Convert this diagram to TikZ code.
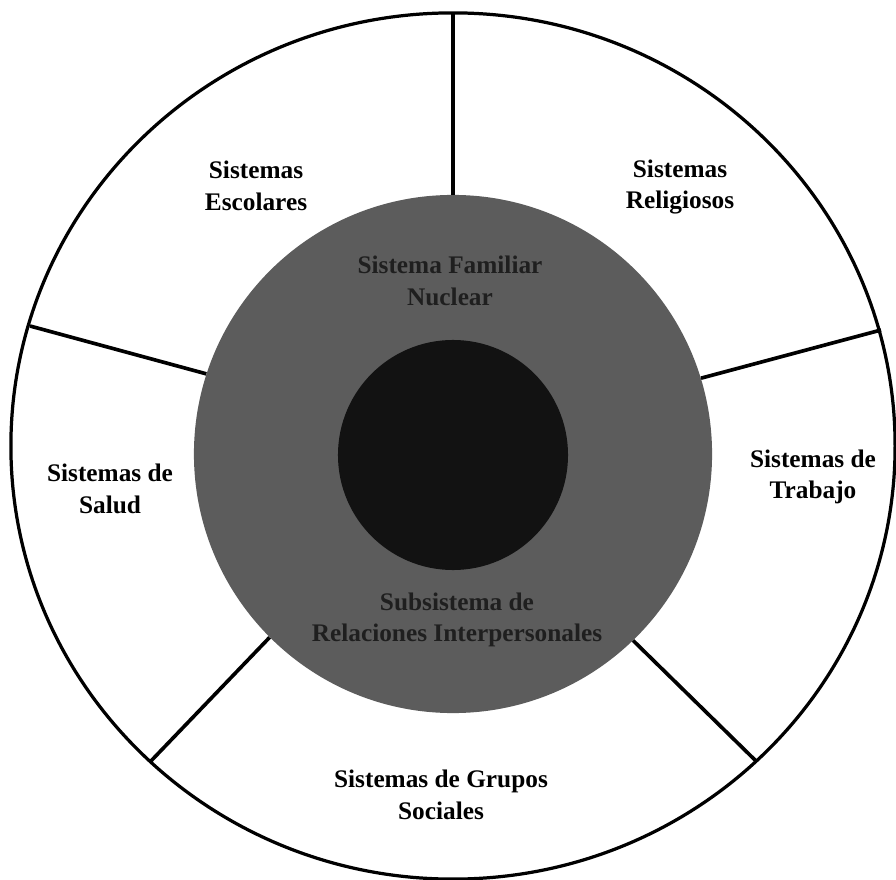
\documentclass[tikz,border=0pt]{standalone}
\usepackage{fontspec}
\setmainfont{Liberation Serif}

\begin{document}
\begin{tikzpicture}[
  x=0.025cm, y=-0.025cm,
  font=\bfseries\fontsize{18}{22.5}\selectfont,
  sistema/.style={align=center, inner sep=0pt},
  oculto/.style={align=center, inner sep=0pt, text=black!88},
  disco/.style={circle, inner sep=0pt},
  divisor/.style={line width=2.6pt}
]
\useasboundingbox (0,0) rectangle (896,880);
\fill[white] (0,0) rectangle (896,880);

% anillo exterior
\draw[line width=2.3pt] (453,446) ellipse [x radius=11.05cm, y radius=10.825cm];

% discos centrales
\node[disco, fill=black!64, minimum size=12.95cm] (familia) at (453,454) {};
\node[disco, fill=black!93, minimum size=5.75cm] (nucleo) at (453,455) {};

% extremos de los divisores
\coordinate (arriba) at (453,13);
\coordinate (izqsup) at (30,326);
\coordinate (dersup) at (881,330);
\coordinate (izqinf) at (150,762);
\coordinate (derinf) at (756,761);

\draw[divisor] (familia.90) -- (arriba);
\draw[divisor] (familia.162.5) -- (izqsup);
\draw[divisor] (familia.17.7) -- (dersup);
\draw[divisor] (familia.225.5) -- (izqinf);
\draw[divisor] (familia.314.4) -- (derinf);

\node[sistema] (escolares) at (256,186) {Sistemas\\Escolares};
\node[sistema] (religiosos) at (680,187) {Sistemas\\Religiosos};
\node[sistema] (salud) at (110,489) {Sistemas de\\Salud};
\node[sistema] (trabajo) at (813,477) {Sistemas de\\Trabajo};
\node[sistema] (grupos) at (441,795) {Sistemas de Grupos\\Sociales};

\node[oculto] (famtexto) at (450,281) {Sistema Familiar\\Nuclear};
\node[oculto] (subtexto) at (457,620) {Subsistema de\\Relaciones Interpersonales};
\end{tikzpicture}
\end{document}
